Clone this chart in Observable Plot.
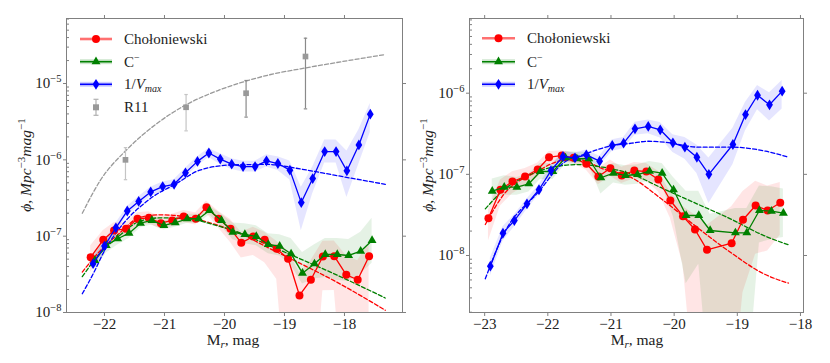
<!DOCTYPE html>
<html><head><meta charset="utf-8">
<script src="https://cdn.jsdelivr.net/npm/d3@7"></script>
<script src="https://cdn.jsdelivr.net/npm/@observablehq/plot@0.6"></script>
<style>
body{margin:0;background:#fff;}
#wrap{display:flex;width:830px;height:363px;overflow:hidden;}
</style></head><body><div id="wrap"></div>
<script>
// ---------------- LEFT PANEL DATA (log10 phi) ----------------
const L_blueM   = [-22.19,-22.0,-21.81,-21.62,-21.43,-21.23,-21.03,-20.84,-20.65,-20.45,-20.26,-20.07,-19.88,-19.69,-19.49,-19.30,-19.11,-18.91,-18.72,-18.53,-18.33,-18.14,-17.96,-17.76,-17.57];
const L_blueLog = [-7.36,-7.13,-6.89,-6.67,-6.545,-6.42,-6.35,-6.32,-6.17,-6.02,-5.91,-5.99,-6.056,-6.088,-6.088,-6.013,-6.048,-6.135,-6.56,-6.245,-5.891,-5.891,-6.144,-5.805,-5.401];
const L_blueLo  = [0.08,0.07,0.06,0.06,0.06,0.06,0.06,0.06,0.06,0.06,0.06,0.07,0.07,0.07,0.07,0.08,0.09,0.13,0.37,0.2,0.15,0.15,0.35,0.25,0.24];
const L_blueHi  = [0.08,0.07,0.06,0.06,0.06,0.06,0.06,0.06,0.06,0.06,0.06,0.07,0.07,0.07,0.07,0.08,0.09,0.12,0.2,0.15,0.15,0.15,0.26,0.2,0.14];

const L_redM    = [-22.23,-22.02,-21.84,-21.64,-21.45,-21.26,-21.06,-20.87,-20.68,-20.48,-20.30,-20.10,-19.90,-19.72,-19.52,-19.33,-19.13,-18.94,-18.75,-18.56,-18.36,-18.17,-17.97,-17.78,-17.59];
const L_redLog  = [-7.275,-7.047,-6.925,-6.903,-6.772,-6.759,-6.83,-6.794,-6.742,-6.772,-6.62,-6.772,-6.903,-7.087,-7.004,-7.047,-7.165,-7.296,-7.777,-7.571,-7.266,-7.262,-7.506,-7.571,-7.262];
const L_redLo   = [0.2,0.15,0.1,0.09,0.08,0.08,0.08,0.08,0.08,0.08,0.08,0.12,0.18,0.2,0.25,0.3,0.4,2,2,2,0.45,0.45,2,2,2];
const L_redHi   = [0.15,0.12,0.1,0.08,0.08,0.08,0.08,0.08,0.08,0.08,0.08,0.1,0.12,0.14,0.12,0.1,0.1,0.1,0.3,0.25,0.2,0.2,0.25,0.25,0.18];

const L_grnM    = [-22.16,-21.97,-21.78,-21.59,-21.40,-21.21,-21.01,-20.82,-20.62,-20.43,-20.25,-20.05,-19.86,-19.66,-19.47,-19.27,-19.08,-18.89,-18.70,-18.50,-18.32,-18.12,-17.93,-17.73,-17.54];
const L_grnLog  = [-7.318,-7.122,-7.034,-6.961,-6.83,-6.794,-6.86,-6.824,-6.772,-6.772,-6.663,-6.794,-6.948,-6.978,-7.004,-7.109,-7.131,-7.231,-7.485,-7.362,-7.24,-7.24,-7.253,-7.197,-7.056];
const L_grnLo   = [0.12,0.1,0.08,0.07,0.06,0.06,0.06,0.06,0.06,0.06,0.06,0.08,0.1,0.12,0.12,0.12,0.13,0.15,0.14,0.2,0.3,0.34,0.34,0.3,0.3];
const L_grnHi   = [0.12,0.1,0.08,0.07,0.06,0.06,0.06,0.06,0.06,0.06,0.06,0.08,0.12,0.14,0.14,0.14,0.15,0.2,0.27,0.25,0.21,0.21,0.21,0.25,0.29];

const L_r11M    = [-21.65,-20.64,-19.64,-18.65];
const L_r11Log  = [-6.0,-5.311,-5.127,-4.646];
const L_r11LoLog= [-6.26,-5.62,-5.44,-5.332];
const L_r11HiLog= [-5.84,-5.144,-4.96,-4.406];

// fitted (dashed) curves
const L_fitGrayM   = [-22.37,-22.07,-21.62,-21.12,-20.62,-20.12,-19.62,-19.18,-18.73,-17.32];
const L_fitGrayLog = [-6.70,-6.27,-5.86,-5.52,-5.27,-5.095,-4.963,-4.873,-4.807,-4.62];
const L_fitM       = [-22.37,-22.07,-21.79,-21.4,-21.07,-20.62,-20.18,-19.73,-19.29,-18.73,-18.18,-17.32];
const L_fitRedLog  = [-7.47,-7.19,-6.99,-6.75,-6.72,-6.75,-6.84,-6.97,-7.144,-7.36,-7.58,-7.97];
const L_fitGrnLog  = [-7.53,-7.22,-7.02,-6.80,-6.76,-6.77,-6.85,-6.96,-7.11,-7.30,-7.49,-7.81];
const L_fitBlueM   = [-22.37,-22.16,-22.0,-21.8,-21.24,-20.8,-20.41,-19.86,-19.29,-18.73,-18.17,-17.32];
const L_fitBlueLog = [-7.755,-7.45,-7.19,-6.95,-6.51,-6.31,-6.135,-6.066,-6.06,-6.12,-6.2,-6.32];

// ---------------- RIGHT PANEL DATA ----------------
const R_blueM   = [-22.91,-22.71,-22.53,-22.33,-22.14,-21.95,-21.76,-21.57,-21.39,-21.18,-20.98,-20.80,-20.62,-20.41,-20.22,-20.02,-19.83,-19.64,-19.45,-19.07,-18.87,-18.68,-18.49,-18.29];
const R_blueLog = [-8.132,-7.725,-7.569,-7.363,-7.19,-6.953,-6.78,-6.796,-6.759,-6.838,-6.644,-6.616,-6.439,-6.41,-6.451,-6.611,-6.665,-6.789,-7.0,-6.632,-6.263,-6.025,-6.143,-5.975];
const R_blueLo  = [0.12,0.1,0.08,0.07,0.06,0.06,0.06,0.06,0.06,0.06,0.07,0.07,0.08,0.09,0.1,0.12,0.15,0.2,0.36,0.25,0.2,0.18,0.2,0.22];
const R_blueHi  = [0.1,0.08,0.07,0.06,0.06,0.06,0.06,0.06,0.06,0.06,0.07,0.07,0.08,0.08,0.09,0.1,0.12,0.15,0.2,0.2,0.15,0.12,0.15,0.13];

const R_redM    = [-22.94,-22.75,-22.56,-22.36,-22.16,-21.98,-21.78,-21.59,-21.39,-21.20,-21.01,-20.83,-20.63,-20.44,-20.25,-20.06,-19.86,-19.67,-19.48,-19.09,-18.91,-18.71,-18.52,-18.32];
const R_redLog  = [-7.54,-7.19,-7.088,-7.027,-6.94,-6.789,-6.768,-6.796,-6.87,-7.027,-6.924,-7.014,-6.953,-6.965,-7.063,-7.322,-7.516,-7.68,-7.93,-7.848,-7.56,-7.384,-7.445,-7.35];
const R_redLo   = [0.28,0.2,0.15,0.12,0.1,0.08,0.07,0.07,0.08,0.1,0.1,0.1,0.1,0.12,0.15,0.22,0.6,2,2,2,0.9,0.6,0.5,0.4];
const R_redHi   = [0.1,0.12,0.12,0.1,0.08,0.07,0.06,0.06,0.07,0.1,0.1,0.1,0.1,0.1,0.1,0.1,0.12,0.18,0.3,0.45,0.35,0.3,0.3,0.25];

const R_grnM    = [-22.88,-22.69,-22.49,-22.30,-22.12,-21.92,-21.72,-21.54,-21.35,-21.16,-20.96,-20.77,-20.58,-20.39,-20.19,-20.01,-19.81,-19.61,-19.43,-19.03,-18.85,-18.65,-18.46,-18.27];
const R_grnLog  = [-7.208,-7.158,-7.158,-7.116,-6.965,-6.965,-6.796,-6.808,-6.808,-7.042,-6.986,-7.014,-7.002,-6.961,-6.986,-7.19,-7.507,-7.507,-7.692,-7.72,-7.72,-7.445,-7.454,-7.479];
const R_grnLo   = [0.11,0.1,0.1,0.1,0.1,0.1,0.08,0.08,0.08,0.2,0.12,0.12,0.12,0.12,0.15,0.34,0.84,0.6,2,2,2,0.4,0.35,0.3];
const R_grnHi   = [0.15,0.14,0.12,0.12,0.1,0.1,0.08,0.08,0.08,0.12,0.12,0.12,0.12,0.12,0.12,0.15,0.3,0.3,0.2,0.3,0.3,0.3,0.3,0.3];

const R_fitM       = [-22.99,-22.71,-22.19,-21.77,-21.5,-21.13,-20.69,-20.17,-19.64,-19.11,-18.58,-18.19];
const R_fitRedLog  = [-7.618,-7.26,-6.974,-6.83,-6.82,-6.932,-7.035,-7.322,-7.651,-7.96,-8.226,-8.341];
const R_fitGrnLog  = [-7.425,-7.2,-6.974,-6.891,-6.879,-6.912,-6.993,-7.178,-7.363,-7.548,-7.754,-7.868];
const R_fitBlueM   = [-22.99,-22.71,-22.13,-21.77,-21.4,-21.03,-20.67,-20.41,-20.14,-19.61,-19.08,-18.55,-18.19];
const R_fitBlueLog = [-8.287,-7.754,-7.2,-6.87,-6.747,-6.655,-6.616,-6.592,-6.604,-6.665,-6.665,-6.715,-6.789];

// tick values
const L_xticks = [-22,-21,-20,-19,-18];
const R_xticks = [-23,-22,-21,-20,-19,-18];
const L_yticks = [1e-8,1e-7,1e-6,1e-5];
const R_yticks = [1e-8,1e-7,1e-6];

// ---------------- helpers ----------------
const RED = "#ff0000", GREEN = "#008000", BLUE = "#0000ff", GRAY = "#999999", AX = "#808080", TXT = "#222";
const FONT = "'Liberation Serif', 'DejaVu Serif', serif";

function rows(M, lg, lo, hi) {
  return M.map((m, i) => ({
    m, v: 10 ** lg[i],
    lo: lo ? 10 ** (lg[i] - lo[i]) : null,
    hi: hi ? 10 ** (lg[i] + hi[i]) : null
  }));
}
const thinDiamond = {draw(ctx, size) {
  const r = Math.sqrt(size / Math.PI), w = r * 0.85, h = r * 1.35;
  ctx.moveTo(0, -h); ctx.lineTo(w, 0); ctx.lineTo(0, h); ctx.lineTo(-w, 0); ctx.closePath();
}};
const capSym = {draw(ctx, size) {
  const r = Math.sqrt(size / Math.PI);
  ctx.moveTo(-r, 0); ctx.lineTo(r, 0);
}};
function minorTicks(lo, hi) {
  const out = [];
  for (let e = Math.floor(Math.log10(lo)); e <= Math.ceil(Math.log10(hi)); e++)
    for (let k = 2; k <= 9; k++) { const v = k * 10 ** e; if (v >= lo && v <= hi) out.push(v); }
  return out;
}

function panel(cfg) {
  const W = 415, H = 363;
  const innerW = W - cfg.ml - cfg.mr;
  const red = rows(cfg.red[0], cfg.red[1], cfg.red[2], cfg.red[3]);
  const grn = rows(cfg.grn[0], cfg.grn[1], cfg.grn[2], cfg.grn[3]);
  const blu = rows(cfg.blu[0], cfg.blu[1], cfg.blu[2], cfg.blu[3]);
  const marks = [];
  marks.push(Plot.areaY(red, {x: "m", y1: "lo", y2: "hi", fill: RED, fillOpacity: 0.1, clip: true}));
  marks.push(Plot.areaY(grn, {x: "m", y1: "lo", y2: "hi", fill: GREEN, fillOpacity: 0.1, clip: true}));
  marks.push(Plot.areaY(blu, {x: "m", y1: "lo", y2: "hi", fill: BLUE, fillOpacity: 0.1, clip: true}));
  for (const f of cfg.fits) {
    marks.push(Plot.line(rows(f[0], f[1]), {x: "m", y: "v", stroke: f[2], strokeWidth: 1.3, strokeDasharray: "4,2.2", curve: "monotone-x", clip: true}));
  }
  if (cfg.r11) {
    const r = cfg.r11[0].map((m, i) => ({m, v: 10 ** cfg.r11[1][i], lo: 10 ** cfg.r11[2][i], hi: 10 ** cfg.r11[3][i]}));
    const light = r.slice(0, 2), dark = r.slice(2);
    for (const [set, col] of [[light, "#c4c4c4"], [dark, "#8a8a8a"]]) {
      marks.push(Plot.ruleX(set, {x: "m", y1: "lo", y2: "hi", stroke: col, strokeWidth: 1.2}));
      marks.push(Plot.dot(set, {x: "m", y: "lo", symbol: capSym, r: 1.7, stroke: col, fill: "none", strokeWidth: 1.2}));
      marks.push(Plot.dot(set, {x: "m", y: "hi", symbol: capSym, r: 1.7, stroke: col, fill: "none", strokeWidth: 1.2}));
    }
    marks.push(Plot.dot(r, {x: "m", y: "v", symbol: "square", r: 3.2, fill: GRAY}));
  }
  marks.push(Plot.line(red, {x: "m", y: "v", stroke: RED, strokeWidth: 1.3}));
  marks.push(Plot.dot(red, {x: "m", y: "v", r: 4, fill: RED}));
  marks.push(Plot.line(grn, {x: "m", y: "v", stroke: GREEN, strokeWidth: 1.3}));
  marks.push(Plot.dot(grn, {x: "m", y: "v", symbol: "triangle", r: 3.3, fill: GREEN}));
  marks.push(Plot.line(blu, {x: "m", y: "v", stroke: BLUE, strokeWidth: 1.3}));
  marks.push(Plot.dot(blu, {x: "m", y: "v", symbol: thinDiamond, r: 4, fill: BLUE}));

  marks.push(Plot.axisX({ticks: cfg.xticks, tickSize: 4, tickPadding: 2, stroke: AX, fill: TXT, fontSize: 15,
    tickFormat: d => d < 0 ? "\u2212" + Math.abs(d) : String(d), label: null}));
  marks.push(Plot.axisX({anchor: "top", ticks: cfg.xticks, tickSize: 4, stroke: AX, fill: "none", label: null}));
  marks.push(Plot.axisY({ticks: cfg.yticks, tickSize: 3, tickPadding: 2, stroke: AX, fill: TXT, fontSize: 15,
    tickFormat: d => "10^" + Math.round(Math.log10(d)), label: null}));
  marks.push(Plot.axisY({anchor: "right", ticks: cfg.yticks, tickSize: 3, stroke: AX, fill: "none", label: null}));
  marks.push(Plot.tickY(minorTicks(cfg.ydomain[0], cfg.ydomain[1]), {y: d => d, stroke: AX, insetRight: innerW - 3}));
  marks.push(Plot.frame({stroke: AX}));

  const svg = Plot.plot({
    width: W, height: H,
    marginLeft: cfg.ml, marginRight: cfg.mr, marginTop: 18, marginBottom: 51,
    x: {domain: cfg.xdomain},
    y: {type: "log", domain: cfg.ydomain},
    style: {fontFamily: FONT, fontSize: "15px", color: TXT, background: "white"},
    marks
  });
  const s = d3.select(svg);
  // superscript tick labels
  s.selectAll('g[aria-label="y-axis tick label"] text').each(function () {
    const t = this.textContent;
    if (!t.includes("^")) return;
    const e = +t.split("^")[1];
    const el = d3.select(this);
    el.text("10");
    el.append("tspan").attr("dy", "-6").attr("font-size", "10.5px").text("\u2212" + Math.abs(e));
  });
  // x label
  const xl = s.append("text").attr("x", cfg.xlabelX).attr("y", 345).attr("text-anchor", "middle")
    .attr("font-family", FONT).attr("font-size", "15.5px").attr("fill", TXT);
  xl.append("tspan").text("M");
  xl.append("tspan").attr("dy", "3").attr("font-size", "11px").attr("font-style", "italic").text("r");
  xl.append("tspan").attr("dy", "-3").text(", mag");
  // y label
  const yl = s.append("text").attr("transform", `translate(${cfg.ylabelX},165) rotate(-90)`)
    .attr("text-anchor", "middle").attr("font-family", FONT).attr("font-size", "15.5px").attr("fill", TXT)
    .attr("font-style", "italic");
  yl.append("tspan").text("\u03d5, Mpc");
  yl.append("tspan").attr("dy", "-6").attr("font-size", "11px").attr("font-style", "normal").text("\u22123");
  yl.append("tspan").attr("dy", "6").text("mag");
  yl.append("tspan").attr("dy", "-6").attr("font-size", "11px").attr("font-style", "normal").text("\u22121");
  // legend
  const lg = cfg.legend;
  const g = s.append("g");
  const items = [
    {key: "red", label: [["Cho\u0142oniewski"]]},
    {key: "grn", label: [["C"], ["\u2212", "sup"]]},
    {key: "blu", label: [["1/"], ["V", "it"], ["max", "subit"]]},
    {key: "r11", label: [["R11"]]}
  ].slice(0, lg.ys.length);
  items.forEach((it, i) => {
    const y = lg.ys[i], xm = (lg.x0 + lg.x1) / 2;
    if (it.key === "red") {
      g.append("line").attr("x1", lg.x0).attr("x2", lg.x1).attr("y1", y).attr("y2", y).attr("stroke", "#ff7070").attr("stroke-width", 2.6);
      g.append("circle").attr("cx", xm).attr("cy", y).attr("r", 4).attr("fill", RED);
    } else if (it.key === "grn") {
      g.append("line").attr("x1", lg.x0).attr("x2", lg.x1).attr("y1", y).attr("y2", y).attr("stroke", "#cfe6cf").attr("stroke-width", 5);
      g.append("line").attr("x1", lg.x0).attr("x2", lg.x1).attr("y1", y).attr("y2", y).attr("stroke", GREEN).attr("stroke-width", 1.6);
      g.append("path").attr("d", d3.symbol(d3.symbolTriangle, 3.3 * 3.3 * Math.PI)()).attr("transform", `translate(${xm},${y})`).attr("fill", GREEN);
    } else if (it.key === "blu") {
      g.append("line").attr("x1", lg.x0).attr("x2", lg.x1).attr("y1", y).attr("y2", y).attr("stroke", "#cfcfff").attr("stroke-width", 5);
      g.append("line").attr("x1", lg.x0).attr("x2", lg.x1).attr("y1", y).attr("y2", y).attr("stroke", BLUE).attr("stroke-width", 1.6);
      g.append("path").attr("d", d3.symbol(thinDiamond, 16 * Math.PI)()).attr("transform", `translate(${xm},${y})`).attr("fill", BLUE);
    } else {
      g.append("line").attr("x1", xm).attr("x2", xm).attr("y1", y - 8).attr("y2", y + 8).attr("stroke", "#b0b0b0").attr("stroke-width", 1.2);
      g.append("line").attr("x1", xm - 2.5).attr("x2", xm + 2.5).attr("y1", y - 8).attr("y2", y - 8).attr("stroke", "#b0b0b0").attr("stroke-width", 1.2);
      g.append("line").attr("x1", xm - 2.5).attr("x2", xm + 2.5).attr("y1", y + 8).attr("y2", y + 8).attr("stroke", "#b0b0b0").attr("stroke-width", 1.2);
      g.append("rect").attr("x", xm - 3).attr("y", y - 3).attr("width", 6).attr("height", 6).attr("fill", GRAY);
    }
    const t = g.append("text").attr("x", lg.xt).attr("y", y + 5).attr("text-anchor", "start")
      .attr("font-family", FONT).attr("font-size", "15px").attr("fill", TXT);
    let shift = 0;
    for (const [str, kind] of it.label) {
      const sp = t.append("tspan").text(str);
      let target = 0;
      if (kind === "sup") { sp.attr("font-size", "10px"); target = -6; }
      if (kind === "it") sp.attr("font-style", "italic");
      if (kind === "subit") { sp.attr("font-size", "10px").attr("font-style", "italic"); target = 3; }
      if (target !== shift) { sp.attr("dy", target - shift); shift = target; }
    }
  });
  return svg;
}

const wrap = document.getElementById("wrap");
wrap.appendChild(panel({
  ml: 66, mr: 13,
  xdomain: [-22.633, -17.033], ydomain: [1e-8, 10 ** -4.148],
  xticks: L_xticks, yticks: L_yticks,
  red: [L_redM, L_redLog, L_redLo, L_redHi],
  grn: [L_grnM, L_grnLog, L_grnLo, L_grnHi],
  blu: [L_blueM, L_blueLog, L_blueLo, L_blueHi],
  r11: [L_r11M, L_r11Log, L_r11LoLog, L_r11HiLog],
  fits: [[L_fitGrayM, L_fitGrayLog, "#999999"], [L_fitM, L_fitRedLog, RED], [L_fitM, L_fitGrnLog, GREEN], [L_fitBlueM, L_fitBlueLog, BLUE]],
  xlabelX: 233, ylabelX: 31,
  legend: {x0: 80, x1: 112, xt: 124, ys: [39, 61.7, 84.3, 107.3]}
}));
wrap.appendChild(panel({
  ml: 54, mr: 27,
  xdomain: [-23.24, -17.952], ydomain: [10 ** -8.7024, 10 ** -5.0795],
  xticks: R_xticks, yticks: R_yticks,
  red: [R_redM, R_redLog, R_redLo, R_redHi],
  grn: [R_grnM, R_grnLog, R_grnLo, R_grnHi],
  blu: [R_blueM, R_blueLog, R_blueLo, R_blueHi],
  r11: null,
  fits: [[R_fitM, R_fitRedLog, RED], [R_fitM, R_fitGrnLog, GREEN], [R_fitBlueM, R_fitBlueLog, BLUE]],
  xlabelX: 222, ylabelX: 18,
  legend: {x0: 67, x1: 100, xt: 112, ys: [38.3, 61.7, 84.3]}
}));
</script></body></html>
